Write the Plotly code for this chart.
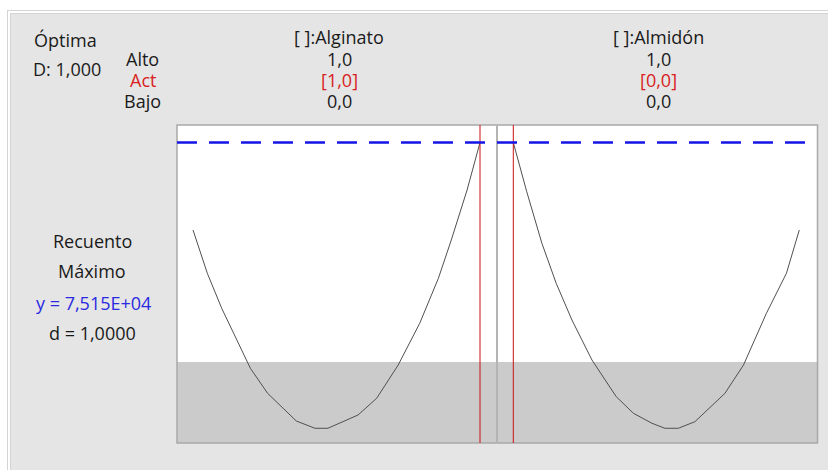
import plotly.graph_objects as go

# ---- data ---------------------------------------------------------------
# Predicted "Recuento" along each factor (other factor held at its setting)
alginato_x = [0.0, 0.05, 0.10, 0.15, 0.20, 0.26, 0.36, 0.425, 0.47, 0.575,
              0.64, 0.715, 0.79, 0.855, 0.90, 0.955, 1.0]
alginato_y = [53270, 42440, 33690, 26180, 18680, 12430, 5500, 3680, 3680, 7000,
              11180, 19510, 29940, 41190, 50770, 63270, 75150]

almidon_x = [0.0, 0.047, 0.10, 0.15, 0.205, 0.275, 0.36, 0.42, 0.485, 0.53,
             0.577, 0.635, 0.74, 0.805, 0.885, 0.955, 1.0]
almidon_y = [75150, 62850, 49940, 39940, 30760, 20760, 11580, 7430, 4930, 3680,
             3680, 5330, 12430, 19510, 32440, 42440, 53270]

factores = ["[ ]:Alginato", "[ ]:Almidón"]
alto = ["1,0", "1,0"]
actual = ["[1,0]", "[0,0]"]
bajo = ["0,0", "0,0"]
actual_x = [1.0, 0.0]

y_optimo = 75150          # predicted response at the optimum
limite_inferior = 20260   # lower desirability bound (shaded below)
y_rango = [0, 79525]

W, H = 828, 470


def px(x):
    return x / W


def py(y):
    return 1 - y / H


FONT = "Open Sans"
BLACK = "#1a1a1a"
RED = "#d81e1e"
BLUE = "#2a2ae0"

fig = go.Figure()
fig.add_trace(go.Scatter(x=alginato_x, y=alginato_y, mode="lines",
                         line=dict(color="#505050", width=1),
                         xaxis="x", yaxis="y", hoverinfo="skip", showlegend=False))
fig.add_trace(go.Scatter(x=almidon_x, y=almidon_y, mode="lines",
                         line=dict(color="#505050", width=1),
                         xaxis="x2", yaxis="y2", hoverinfo="skip", showlegend=False))

ydom = [py(443), py(125)]
axis_common = dict(visible=False, showgrid=False, zeroline=False, fixedrange=True)

shapes = []
# white outer margin and double frame lines
shapes.append(dict(type="rect", xref="paper", yref="paper", x0=0, x1=1,
                   y0=py(13), y1=1, fillcolor="white", line_width=0, layer="below"))
shapes.append(dict(type="rect", xref="paper", yref="paper", x0=0, x1=px(10),
                   y0=0, y1=1, fillcolor="white", line_width=0, layer="below"))
for yy, xs in [(10.5, 7), (13.5, 10)]:
    shapes.append(dict(type="line", xref="paper", yref="paper", x0=px(xs), x1=1,
                       y0=py(yy), y1=py(yy), line=dict(color="#d4d4d4", width=1)))
for xx, ys in [(7.5, 10), (10.5, 13)]:
    shapes.append(dict(type="line", xref="paper", yref="paper", x0=px(xx), x1=px(xx),
                       y0=0, y1=py(ys), line=dict(color="#d4d4d4", width=1)))

# shaded region below the lower bound
for xr, yr in [("x domain", "y"), ("x2 domain", "y2")]:
    shapes.append(dict(type="rect", xref=xr, yref=yr, x0=0, x1=1,
                       y0=y_rango[0], y1=limite_inferior, fillcolor="#cbcbcb",
                       line_width=0, layer="below"))

# panel frame and divider
shapes.append(dict(type="rect", xref="paper", yref="paper", x0=px(177), x1=px(817.5),
                   y0=py(443), y1=py(125), line=dict(color="#a9a9a9", width=1.5)))
shapes.append(dict(type="line", xref="paper", yref="paper", x0=px(497), x1=px(497),
                   y0=py(443), y1=py(125), line=dict(color="#b4b4b4", width=2)))

# current factor settings
for xr, yr, xv in [("x", "y domain", actual_x[0]), ("x2", "y2 domain", actual_x[1])]:
    shapes.append(dict(type="line", xref=xr, yref=yr, x0=xv, x1=xv, y0=0, y1=1,
                       line=dict(color="#cc1111", width=1)))

# optimum response line
shapes.append(dict(type="line", xref="paper", yref="y", x0=px(177), x1=px(817),
                   y0=y_optimo, y1=y_optimo,
                   line=dict(color="#1414e6", width=2.5, dash="20px,12px")))

ann = []


def text(x, y, s, color=BLACK, size=18):
    ann.append(dict(x=px(x), y=py(y), xref="paper", yref="paper", text=s,
                    showarrow=False, xanchor="center", yanchor="middle",
                    borderpad=0,
                    font=dict(family=FONT, size=size, color=color)))


text(65, 40, "Óptima")
text(66.5, 69, "D: 1,000")
text(142, 59, "Alto")
text(143, 79.5, "Act", RED)
text(142, 100.5, "Bajo")

for cx, f, a, c, b in zip([339, 658.5], factores, alto, actual, bajo):
    text(cx, 36.5, f)
    text(cx, 59.5, a)
    text(cx, 80, c, RED)
    text(cx, 101, b)

text(92, 240.5, "Recuento")
text(92, 270.5, "Máximo")
text(93, 303, f"y = {y_optimo / 1e4:.3f}E+04".replace(".", ","), BLUE)
text(92, 333, "d = 1,0000")

fig.update_layout(
    width=W, height=H,
    margin=dict(l=0, r=0, t=0, b=0),
    paper_bgcolor="#e5e5e5",
    plot_bgcolor="white",
    showlegend=False,
    xaxis=dict(domain=[px(177), px(497)], range=[-0.0557, 1.0592], **axis_common),
    xaxis2=dict(domain=[px(497), px(817)], range=[-0.057, 1.0619], **axis_common),
    yaxis=dict(domain=ydom, range=y_rango, anchor="x", **axis_common),
    yaxis2=dict(domain=ydom, range=y_rango, anchor="x2", **axis_common),
    shapes=shapes,
    annotations=ann,
)

fig.write_html("out.html")
